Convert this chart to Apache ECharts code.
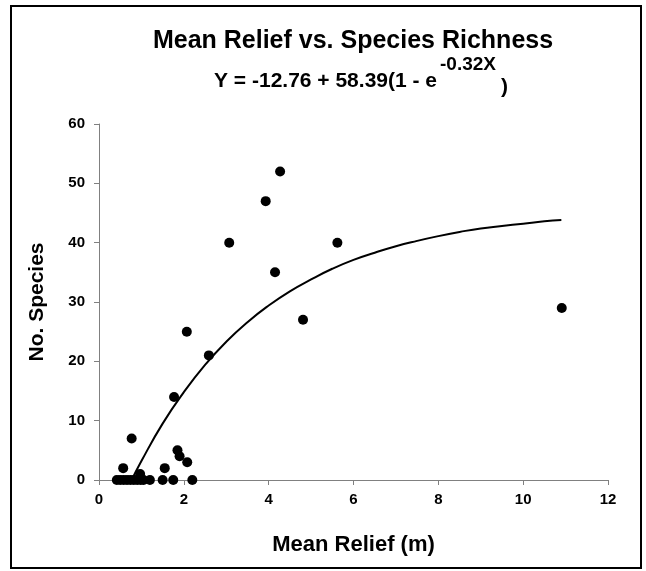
<!DOCTYPE html>
<html>
<head>
<meta charset="utf-8">
<script src="https://cdn.jsdelivr.net/npm/echarts@6/dist/echarts.min.js"></script>
<style>html,body{margin:0;padding:0;background:#fff}#c{width:646px;height:571px}</style>
</head>
<body>
<div id="c"></div>
<script>
var reliefX  = [0.42,0.5,0.58,0.66,0.74,0.82,0.9,0.98,1.05,1.2,1.5,1.75,2.2, 0.57,0.77,0.97,1.55,1.85,1.9,2.08,1.77,2.07,2.59,3.07,3.93,4.27,4.15,5.62,4.81,10.91];
var speciesY = [0,0,0,0,0,0,0,0,0,0,0,0,0, 2,7,1,2,5,4,3,14,25,21,40,47,52,35,40,27,29];
// Fitted curve
var curveX = [0.77,1,1.5,2,2.5,3,3.5,4,4.5,5,5.5,6,6.5,7,7.5,8,8.5,9,9.5,10,10.5,10.9];
var curveY = [0.0,3.2,9.5,14.8,19.4,23.3,26.6,29.4,31.8,33.8,35.6,37.1,38.3,39.4,40.3,41.1,41.8,42.4,42.8,43.2,43.6,43.8];
var xTicks = [0,2,4,6,8,10,12];
var yTicks = [0,10,20,30,40,50,60];
var titleText = 'Mean Relief vs. Species Richness';
var eqMain = 'Y = -12.76 + 58.39(1 - e';
var eqSup = '-0.32X';
var eqClose = ')';
var xName = 'Mean Relief (m)';
var yName = 'No. Species';

var pts = reliefX.map(function(x,i){return [x, speciesY[i]];});
var cpts = curveX.map(function(x,i){return [x, curveY[i]];});
var F = 'Liberation Sans, Arial, sans-serif';

var chart = echarts.init(document.getElementById('c'), null, {renderer:'canvas'});
chart.setOption({
  backgroundColor:'#fff',
  animation:false,
  grid:{left:99, right:38, top:124, bottom:91},
  xAxis:{
    type:'value', min:xTicks[0], max:xTicks[xTicks.length-1], interval:2,
    name:xName, nameLocation:'middle', nameGap:54,
    nameTextStyle:{fontFamily:F, fontWeight:'bold', fontSize:22, color:'#000'},
    axisLine:{show:true, lineStyle:{color:'#808080', width:1}},
    axisTick:{show:true, inside:false, length:5, lineStyle:{color:'#808080'}},
    axisLabel:{margin:12, fontFamily:F, fontWeight:'bold', fontSize:15, color:'#000'},
    splitLine:{show:false}
  },
  yAxis:{
    type:'value', min:yTicks[0], max:yTicks[yTicks.length-1], interval:10,
    name:yName, nameLocation:'middle', nameGap:51, nameRotate:90,
    nameTextStyle:{fontFamily:F, fontWeight:'bold', fontSize:21, color:'#000'},
    axisLine:{show:true, lineStyle:{color:'#808080', width:1}},
    axisTick:{show:true, inside:false, length:5, lineStyle:{color:'#808080'}},
    axisLabel:{margin:14, fontFamily:F, fontWeight:'bold', fontSize:15, color:'#000'},
    splitLine:{show:false}
  },
  series:[
    {type:'line', data:cpts, smooth:true, symbol:'none', lineStyle:{color:'#000', width:2}, z:2},
    {type:'scatter', data:pts, symbol:'circle', symbolSize:10, itemStyle:{color:'#000', opacity:1}, z:3}
  ],
  graphic:[
    {type:'rect', shape:{x:11,y:6,width:630,height:562}, style:{fill:'none', stroke:'#000', lineWidth:2}, z:-1},
    {type:'text', x:353, y:41, style:{text:titleText, font:'bold 25px '+F, fill:'#000', textAlign:'center', textVerticalAlign:'middle'}},
    {type:'text', x:437, y:81, style:{text:eqMain, font:'bold 21px '+F, fill:'#000', textAlign:'right', textVerticalAlign:'middle'}},
    {type:'text', x:440, y:65, style:{text:eqSup, font:'bold 19px '+F, fill:'#000', textAlign:'left', textVerticalAlign:'middle'}},
    {type:'text', x:501, y:87, style:{text:eqClose, font:'bold 21px '+F, fill:'#000', textAlign:'left', textVerticalAlign:'middle'}}
  ]
});
</script>
</body>
</html>
